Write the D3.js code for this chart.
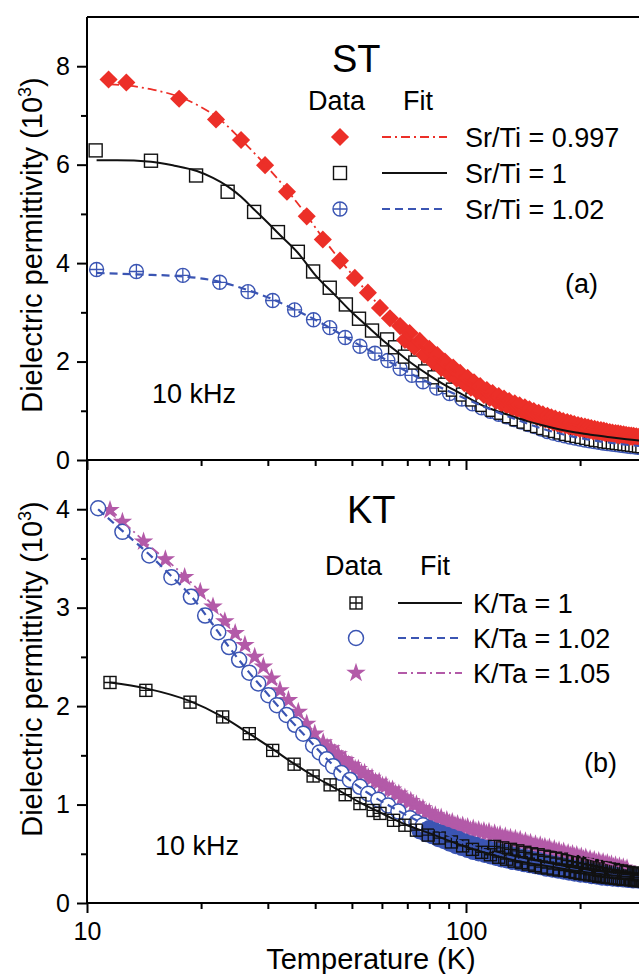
<!DOCTYPE html>
<html><head><meta charset="utf-8">
<script src="https://cdn.jsdelivr.net/npm/d3@7"></script>
<style>
html,body{margin:0;padding:0;background:#fff;overflow:hidden}
svg{display:block}
text{font-family:"Liberation Sans",Arial,Helvetica,sans-serif;fill:#000}
</style>
</head><body>
<svg id="c" width="639" height="974"></svg>
<script>
// ---------- DATA ----------
// Panel (a) ST, Sr/Ti = 0.997 (red diamonds): first sweep, second sweep
const stRedT = [11.4,12.7,17.5,21.9,25.5,29.5,33.7,38.0,41.9,46.5,50.9,55.1,59.3,63,67,71,75.5,80,84,88,92.5,96.5,101,105,109,113.5,117.5,122,126,130,134.5,138.5,143,147,151,155.5,159.5,164,168,172,176.5,180.5,185,189,193,197.5,201.5,206,210,214,218.5,222.5,227,231,235,239.5,243.5,248,252,256,260.5,264.5,269,273,277,281.5,285.5,290,294,298];
const stRedV = [7.73,7.67,7.34,6.92,6.50,5.99,5.45,4.95,4.48,4.05,3.70,3.40,3.09,2.88,2.72,2.58,2.42,2.26,2.13,2.00,1.88,1.77,1.67,1.58,1.50,1.42,1.36,1.30,1.25,1.20,1.15,1.11,1.07,1.03,0.995,0.96,0.93,0.90,0.87,0.84,0.815,0.79,0.77,0.75,0.73,0.71,0.695,0.68,0.665,0.65,0.635,0.62,0.61,0.60,0.585,0.57,0.56,0.55,0.54,0.53,0.52,0.51,0.50,0.495,0.49,0.48,0.47,0.465,0.46,0.45];
const stRedT2 = [69,73,77.5,82,86,90.5,94.5,99,103,107,111.5,115.5,120,124,128,132.5,136.5,141,145,149,153.5,157.5,162,166,170,174.5,178.5,183,187,191,195.5,199.5,204,208,212,216.5,220.5,225,229,233,237.5,241.5,246,250,254,258.5,262.5,267,271,275,279.5,283.5,288,292,296];
const stRedV2 = [2.44,2.30,2.14,1.99,1.87,1.75,1.65,1.56,1.47,1.40,1.32,1.26,1.20,1.15,1.11,1.06,1.03,0.99,0.95,0.92,0.88,0.855,0.825,0.795,0.765,0.74,0.715,0.70,0.68,0.665,0.645,0.63,0.62,0.605,0.595,0.58,0.575,0.565,0.555,0.545,0.535,0.525,0.515,0.51,0.50,0.495,0.485,0.48,0.475,0.47,0.465,0.455,0.45,0.44,0.435];
const stRedFitT = [11.5,12.7,15,17.5,20,22,25.5,29.5,34,38,42,47,52,58,65,75,90,110,140,180,230,300];
const stRedFitV = [7.63,7.61,7.52,7.38,7.17,6.97,6.51,6.00,5.45,4.97,4.50,4.02,3.62,3.20,2.80,2.35,1.88,1.42,1.05,0.77,0.58,0.44];
// Sr/Ti = 1 (open squares)
const stBlkT = [10.54,14.75,19.4,23.5,27.6,31.9,36.0,39.5,43.7,48.2,52.2,56.5,61.9,65,69,73.5,78,82.6,88,92.4,98.2,104,110.6,117.6,124,130,136,142,148,154,160,166,172,178,184,190,196,202,208,214,220,226,232,238,244,250,256,262,268,274,280,286,292];
const stBlkV = [6.29,6.08,5.78,5.45,5.04,4.63,4.23,3.83,3.50,3.16,2.87,2.63,2.45,2.29,2.10,1.98,1.80,1.68,1.53,1.43,1.33,1.23,1.12,1.02,0.96,0.89,0.83,0.78,0.73,0.69,0.65,0.62,0.59,0.56,0.53,0.51,0.49,0.47,0.45,0.43,0.41,0.40,0.38,0.37,0.36,0.35,0.34,0.33,0.32,0.31,0.30,0.29,0.28];
const stBlkFitT = [10.6,12,14.75,17,19.5,21.5,23.5,25.5,27.6,30,32,36,40.3,45,50,55,60,66,72,80,89,96.4,109,118,130,145,160,177,195,216,240,265,300];
const stBlkFitV = [6.09,6.09,6.06,5.98,5.87,5.73,5.56,5.35,5.09,4.82,4.60,4.21,3.73,3.36,3.00,2.71,2.45,2.19,1.96,1.72,1.50,1.36,1.13,1.02,0.91,0.79,0.70,0.62,0.56,0.51,0.46,0.42,0.38];
// Sr/Ti = 1.02 (circle-plus)
const stBluT = [10.6,13.5,17.9,22.4,26.6,30.9,35.3,39.6,43.7,48.0,52.5,57.5,62.2,67.0,72.0,77.0,83.7,90.5,97.5,104,110,116,122,128,134,140,146,152,158,164,170,176,182,188,194,200,206,212,218,224,230,236,242,248,254,260,266,272,278,284,290,296];
const stBluV = [3.87,3.83,3.75,3.61,3.42,3.24,3.05,2.85,2.69,2.49,2.31,2.17,2.02,1.86,1.72,1.59,1.46,1.35,1.24,1.14,1.06,0.99,0.93,0.88,0.82,0.77,0.72,0.68,0.63,0.58,0.545,0.515,0.49,0.465,0.445,0.425,0.405,0.39,0.375,0.36,0.345,0.335,0.325,0.315,0.305,0.295,0.285,0.275,0.27,0.26,0.255,0.25];
const stBluFitT = [10.6,13.5,17.9,22.4,26.6,31,35,40,45,50,57,65,75,87,100,115,135,160,190,225,265,300];
const stBluFitV = [3.80,3.77,3.73,3.62,3.45,3.26,3.07,2.85,2.63,2.42,2.18,1.93,1.67,1.45,1.24,1.04,0.83,0.63,0.48,0.38,0.31,0.27];

// Panel (b) KT, K/Ta = 1 (square-plus): first sweep, second sweep
const ktBlkT = [11.5,14.3,18.7,22.8,26.8,30.9,35.2,39.5,43.8,48.0,52.5,56.9,59.3,64.4,69,74,79.5,85,91.5,98,104,110,116,122,128,134,140,146,152,158,164,170,176,182,188,194,200,206,212,218,224,230,236,242,248,254,260,266,272,278,284,290,296];
const ktBlkV = [2.24,2.16,2.04,1.89,1.72,1.55,1.41,1.29,1.20,1.10,1.01,0.94,0.91,0.84,0.79,0.74,0.69,0.66,0.62,0.58,0.545,0.515,0.49,0.465,0.445,0.425,0.41,0.395,0.38,0.365,0.355,0.345,0.335,0.33,0.32,0.31,0.30,0.295,0.285,0.28,0.27,0.265,0.26,0.255,0.25,0.245,0.24,0.24,0.235,0.23,0.225,0.225,0.22];
const ktBlkT2 = [119,125,131,137,143,149,155,161,167,173,179,185,191,197,203,209,215,221,227,233,239,245,251,257,263,269,275,281,287,293];
const ktBlkV2 = [0.575,0.56,0.545,0.53,0.515,0.50,0.49,0.475,0.465,0.455,0.445,0.43,0.42,0.41,0.40,0.39,0.38,0.37,0.36,0.355,0.345,0.34,0.33,0.325,0.315,0.31,0.305,0.30,0.295,0.29];
const ktBlkFitT = [11.5,14.3,18.7,22.8,26.8,31,35,40,45,52,60,70,80,95,110,130,155,185,220,260,300];
const ktBlkFitV = [2.24,2.18,2.05,1.89,1.72,1.56,1.42,1.28,1.17,1.03,0.91,0.79,0.71,0.60,0.52,0.445,0.39,0.34,0.30,0.27,0.25];
// K/Ta = 1.02 (open circles): first sweep, second sweep
const ktBluT = [10.7,12.4,14.6,16.7,18.8,20.5,22.2,23.7,25.2,26.8,28.3,30.1,31.7,33.6,35.4,37.2,39.5,41.1,42.9,44.6,46.9,49.4,52.5,55.2,58.7,62.3,66.3,71.2,74,77,80,83,86,89,92,95.5,99,102.5,106,110,114,118,122,126,130,135,140,145,150,155,160,166,172,178,184,190,197,204,211,218,225,232,240,248,256,264,272,280,288,296];
const ktBluV = [4.01,3.77,3.53,3.31,3.11,2.92,2.75,2.60,2.47,2.34,2.23,2.11,2.01,1.91,1.81,1.72,1.60,1.53,1.46,1.39,1.32,1.25,1.18,1.11,1.05,0.99,0.93,0.86,0.82,0.79,0.76,0.735,0.71,0.69,0.67,0.65,0.625,0.605,0.59,0.57,0.555,0.54,0.525,0.515,0.50,0.485,0.47,0.46,0.445,0.435,0.42,0.41,0.395,0.385,0.37,0.36,0.35,0.34,0.33,0.32,0.31,0.30,0.29,0.285,0.28,0.275,0.27,0.265,0.26,0.255];
const ktBluT2 = [75.5,78.5,81.5,84.5,87.5,90.5,94,97.5,101,104.5,108,112,116,120,124,128,132.5,137.5,142.5,147.5,152.5,157.5,163,169,175,181,187,193.5,200.5,207.5,214.5,221.5,228.5,236,244,252,260,268,276,284,292];
const ktBluV2 = [0.73,0.70,0.68,0.65,0.63,0.605,0.58,0.56,0.54,0.52,0.505,0.49,0.475,0.46,0.445,0.435,0.42,0.41,0.395,0.385,0.375,0.365,0.35,0.34,0.33,0.32,0.31,0.30,0.29,0.285,0.275,0.27,0.26,0.255,0.25,0.245,0.24,0.235,0.23,0.23,0.225];
const ktBluFitT = [10.7,12.4,14.6,16.7,18.8,21,23.7,26.8,30,34,38,43,49,56,64,74,87,100,118,140,165,195,230,270,300];
const ktBluFitV = [4.00,3.78,3.54,3.32,3.12,2.88,2.60,2.34,2.12,1.88,1.68,1.46,1.26,1.10,0.97,0.84,0.72,0.60,0.51,0.44,0.385,0.335,0.295,0.265,0.25];
// K/Ta = 1.05 (stars): first sweep, second sweep
const ktMagT = [11.5,12.4,14.1,16.1,18.1,19.9,21.5,23.1,24.6,26.1,27.7,29.2,30.7,32.3,34.0,36.1,38.0,39.9,42,44,46,48,50,52,54,56.5,59,61.5,64,66.5,69,71.5,74,77,80,83,86,89,92,95,98,101,104.5,108,111.5,115,119,123,127,131,135,139,143.5,148,152.5,157,161.5,166,171,176,181,186,191,196,201.5,207,212.5,218,224,230,236,242,248,254,260,266];
const ktMagV = [3.99,3.87,3.67,3.49,3.31,3.16,3.01,2.86,2.74,2.62,2.50,2.40,2.28,2.16,2.06,1.94,1.82,1.72,1.63,1.57,1.51,1.45,1.40,1.36,1.32,1.27,1.23,1.19,1.15,1.11,1.07,1.035,1.00,0.96,0.92,0.89,0.865,0.84,0.82,0.80,0.785,0.77,0.755,0.74,0.73,0.72,0.705,0.69,0.675,0.66,0.65,0.64,0.625,0.61,0.595,0.585,0.57,0.56,0.545,0.53,0.52,0.505,0.495,0.485,0.47,0.46,0.445,0.435,0.425,0.415,0.405,0.39,0.38,0.37,0.36,0.35];
const ktMagT2 = [43,45,47,49,51,53,55.2,57.7,60.2,62.7,65.2,67.7,70.2,72.7,75.5,78.5,81.5,84.5,87.5,90.5,93.5,96.5,99.5,102.7,106.2,109.7,113.2,117,121,125,129,133,137,141.2,145.7,150.2,154.7,159.2,163.7,168.5,173.5,178.5,183.5,188.5,193.5,198.7,204.2,209.7,215.2,221,227,233,239,245,251,257,263];
const ktMagV2 = [1.58,1.52,1.46,1.405,1.36,1.32,1.275,1.23,1.19,1.15,1.11,1.07,1.03,1.00,0.96,0.92,0.885,0.86,0.83,0.81,0.79,0.77,0.76,0.74,0.73,0.715,0.705,0.69,0.68,0.66,0.65,0.635,0.625,0.61,0.60,0.58,0.57,0.56,0.545,0.53,0.52,0.505,0.49,0.48,0.47,0.46,0.445,0.43,0.42,0.41,0.40,0.39,0.38,0.365,0.355,0.345,0.335];
const ktMagFitT = [11.5,14.1,18.1,21.5,26.1,30.7,36,42,50,60,72,88,106,128,154,184,219,266];
const ktMagFitV = [4.00,3.68,3.32,3.02,2.63,2.29,1.95,1.63,1.40,1.22,1.04,0.85,0.745,0.67,0.59,0.51,0.435,0.35];

// Axis ticks and labels
const xMajor = [10,100];
const xMinor = [20,30,40,50,60,70,80,90,200,300];
const yTopMajor = [0,2,4,6,8];
const yTopMinor = [1,3,5,7];
const yBotMajor = [0,1,2,3,4];
const yBotMinor = [0.5,1.5,2.5,3.5];
const stLabels = ["Sr/Ti = 0.997","Sr/Ti = 1","Sr/Ti = 1.02"];
const ktLabels = ["K/Ta = 1","K/Ta = 1.02","K/Ta = 1.05"];

// ---------- DRAW ----------
const RED="#ec2f28", BLU="#3b55b3", MAG="#b35aa8", BLK="#111";
const DENSE_T = 80; // above this temperature the overlapping open circles merge into a solid band
const svg = d3.select("#c");
const L=87, Ttop=17, Mid=460, Bot=903;
const X = d3.scaleLog().domain([10,300]).range([L, L+379*Math.log10(30)]);
const Ya = d3.scaleLinear().domain([0,9]).range([Mid,Ttop]);
const Yb = d3.scaleLinear().domain([0,4.5]).range([Bot,Mid]);

const zip=(a,b)=>a.map((t,i)=>[t,b[i]]);

function marker(g, type, fill){
  const f = fill===undefined ? "#fff" : fill;
  if(type==="diamond"){
    g.append("rect").attr("x",-6.4).attr("y",-6.4).attr("width",12.8).attr("height",12.8)
     .attr("transform","rotate(45)").attr("fill",RED);
  } else if(type==="square"){
    g.append("rect").attr("x",-6.5).attr("y",-6.5).attr("width",13).attr("height",13)
     .attr("fill",f).attr("stroke",BLK).attr("stroke-width",1.4);
  } else if(type==="cplus"){
    g.append("circle").attr("r",7).attr("fill",f).attr("stroke",BLU).attr("stroke-width",1.4);
    g.append("path").attr("d","M-7,0H7M0,-7V7").attr("stroke",BLU).attr("stroke-width",1.3);
  } else if(type==="splus"){
    g.append("rect").attr("x",-6).attr("y",-6).attr("width",12).attr("height",12)
     .attr("fill",f).attr("stroke",BLK).attr("stroke-width",1.4);
    g.append("path").attr("d","M-6,0H6M0,-6V6").attr("stroke",BLK).attr("stroke-width",1.3);
  } else if(type==="circle"){
    g.append("circle").attr("r",7.5).attr("fill",f).attr("stroke",BLU).attr("stroke-width",1.5);
  } else if(type==="star"){
    g.append("path").attr("d",d3.symbol(d3.symbolStar,118)()).attr("fill",MAG);
  }
}

function series(Y, T, V, type, fill){
  const g = svg.append("g");
  zip(T,V).forEach(d=>{
    const m = g.append("g").attr("transform",`translate(${X(d[0])},${Y(d[1])})`);
    marker(m,type,typeof fill==="function" ? fill(d) : fill);
  });
}
function fit(Y, T, V, color, width, dash){
  const line = d3.line().x(d=>X(d[0])).y(d=>Y(d[1])).curve(d3.curveMonotoneX);
  svg.append("path").attr("d",line(zip(T,V))).attr("fill","none")
    .attr("stroke",color).attr("stroke-width",width).attr("stroke-dasharray",dash);
}

// Panel (a)
series(Ya, stBluT, stBluV, "cplus");
series(Ya, stBlkT, stBlkV, "square");
series(Ya, stRedT2, stRedV2, "diamond");
series(Ya, stRedT, stRedV, "diamond");
fit(Ya, stRedFitT, stRedFitV, RED, 1.8, "9,4,2,4");
fit(Ya, stBlkFitT, stBlkFitV, BLK, 2, null);
fit(Ya, stBluFitT, stBluFitV, BLU, 2.2, "8,5");

// Panel (b)
series(Yb, ktMagT2, ktMagV2, "star");
series(Yb, ktMagT, ktMagV, "star");
series(Yb, ktBluT2, ktBluV2, "circle", BLU);
series(Yb, ktBluT, ktBluV, "circle", d => d[0] >= DENSE_T ? BLU : "#fff");
series(Yb, ktBlkT2, ktBlkV2, "splus", "none");
series(Yb, ktBlkT, ktBlkV, "splus", "none");
fit(Yb, ktMagFitT, ktMagFitV, MAG, 1.8, "9,4,2,4");
fit(Yb, ktBluFitT, ktBluFitV, BLU, 2.2, "8,5");
fit(Yb, ktBlkFitT, ktBlkFitV, BLK, 2, null);

// Axes
function styleAxis(g, fs){
  g.select(".domain").remove();
  g.selectAll("line").attr("stroke","#000").attr("stroke-width",2);
  g.selectAll("text").attr("font-size",fs).attr("fill","#000")
   .attr("font-family","'Liberation Sans',Arial,sans-serif");
}
[[Ya,yTopMajor,yTopMinor],[Yb,yBotMajor,yBotMinor]].forEach(([Y,maj,mn])=>{
  const a1 = svg.append("g").attr("transform",`translate(${L},0)`)
    .call(d3.axisLeft(Y).tickValues(maj).tickSize(10).tickPadding(7).tickFormat(d3.format("d")));
  styleAxis(a1,25);
  const a2 = svg.append("g").attr("transform",`translate(${L},0)`)
    .call(d3.axisLeft(Y).tickValues(mn).tickSize(6).tickFormat(""));
  styleAxis(a2,25);
});
[[Mid,false],[Bot,true]].forEach(([yy,lab])=>{
  const a1 = svg.append("g").attr("transform",`translate(0,${yy})`)
    .call(d3.axisBottom(X).tickValues(xMajor).tickSize(10).tickPadding(9)
      .tickFormat(lab? d3.format("d") : ""));
  styleAxis(a1,25);
  const a2 = svg.append("g").attr("transform",`translate(0,${yy})`)
    .call(d3.axisBottom(X).tickValues(xMinor).tickSize(6).tickFormat(""));
  styleAxis(a2,25);
});
const xR = X.range()[1];
svg.append("path").attr("d",`M${L},${Ttop}H${xR}M${L},${Mid}H${xR}M${L},${Bot}H${xR}M${L},${Ttop}V${Bot+1}M${xR},${Ttop}V${Bot}`)
  .attr("stroke","#000").attr("stroke-width",2).attr("fill","none");

// y axis titles
[245,669].forEach(cy=>{
  const t = svg.append("text").attr("transform",`translate(42,${cy}) rotate(-90)`)
    .attr("text-anchor","middle").attr("font-size",29);
  t.append("tspan").text("Dielectric permittivity (10");
  t.append("tspan").attr("font-size",18).attr("dy",-11).text("3");
  t.append("tspan").attr("dy",11).text(")");
});
svg.append("text").attr("x",371).attr("y",969).attr("text-anchor","middle")
  .attr("font-size",29).text("Temperature (K)");

function txt(x,y,s,fs){ return svg.append("text").attr("x",x).attr("y",y).attr("font-size",fs).text(s); }
txt(332,72,"ST",38);
txt(347,523,"KT",38);
txt(308,110,"Data",27); txt(403,110,"Fit",27);
txt(325,575,"Data",27); txt(420,575,"Fit",27);
txt(565,293,"(a)",27);
txt(584,772,"(b)",27);
txt(152,403,"10 kHz",27);
txt(155,855,"10 kHz",27);

function legend(rows, x0, xl0, xl1, xt, yc, labels){
  rows.forEach((r,i)=>{
    const y = yc[i];
    const m = svg.append("g").attr("transform",`translate(${x0},${y})`);
    marker(m, r.type);
    svg.append("line").attr("x1",xl0).attr("x2",xl1).attr("y1",y).attr("y2",y)
      .attr("stroke",r.color).attr("stroke-width",r.w).attr("stroke-dasharray",r.dash);
    svg.append("text").attr("x",xt).attr("y",y+10).attr("font-size",27).text(labels[i]);
  });
}
legend([{type:"diamond",color:RED,w:1.8,dash:"9,4,2,4"},{type:"square",color:BLK,w:2,dash:null},{type:"cplus",color:BLU,w:2.2,dash:"8,5"}],
  340, 382, 447, 465, [137,173,209], stLabels);
legend([{type:"splus",color:BLK,w:2,dash:null},{type:"circle",color:BLU,w:2.2,dash:"8,5"},{type:"star",color:MAG,w:1.8,dash:"9,4,2,4"}],
  356, 398, 462, 473, [603,638,673], ktLabels);
</script>
</body></html>
